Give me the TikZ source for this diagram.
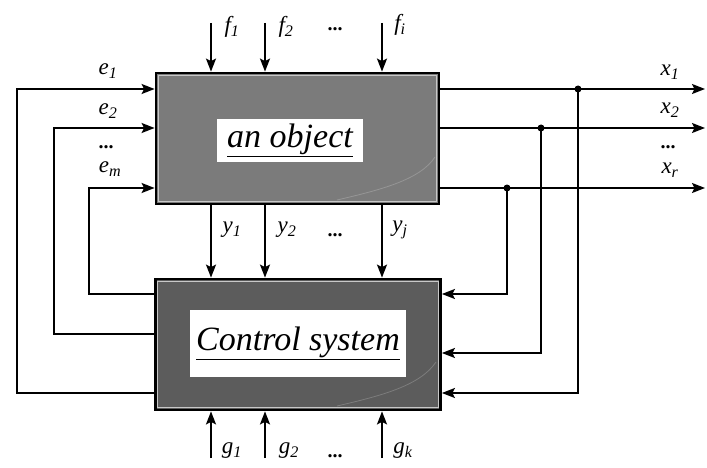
\documentclass[tikz,border=0pt]{standalone}
\usepackage{fontspec}
\setmainfont{Liberation Serif}
\usetikzlibrary{arrows.meta}
\definecolor{objgrey}{HTML}{7B7B7B}
\definecolor{ctlgrey}{HTML}{5C5C5C}
\definecolor{rimgrey}{HTML}{C8C8C8}
\newcommand\lab[2]{\textit{#1}\textsubscript{\textit{#2}}}
\begin{document}
\begin{tikzpicture}[x=1pt,y=-1pt,
  arr/.style={line width=1.8pt,-{Stealth[length=13pt,width=10pt,inset=2.5pt]}},
  blockbox/.style={draw=black,line width=2.8pt,minimum width=283pt,minimum height=131pt,inner sep=0pt},
  rim/.style={draw=rimgrey,line width=0.9pt},
  gloss/.style={draw=white,line width=0.8pt,opacity=0.2},
  textbox/.style={fill=white,inner sep=0pt,font=\fontsize{34}{40}\selectfont\itshape},
  lbl/.style={font=\fontsize{23}{26}\selectfont\itshape,inner sep=0pt},
  dotslbl/.style={font=\fontsize{20}{22}\selectfont\bfseries,inner sep=0pt},
  junction/.style={circle,fill=black,minimum size=7pt,inner sep=0pt}
]
\useasboundingbox (0,0) rectangle (707,468);
\fill[white] (0,0) rectangle (707,468);

% blocks
\node[blockbox,fill=objgrey] (obj) at (297.5,138.5) {};
\node[blockbox,fill=ctlgrey,minimum width=285pt] (ctl) at (298,344.5) {};
\draw[rim] ([shift={(3.5pt,-3.5pt)}]obj.north west) rectangle ([shift={(-3.5pt,3.5pt)}]obj.south east);
\draw[rim] ([shift={(3.5pt,-3.5pt)}]ctl.north west) rectangle ([shift={(-3.5pt,3.5pt)}]ctl.south east);
\draw[gloss] (337,200) .. controls (380,190) and (420,180) .. (435,157);
\draw[gloss] (337,406) .. controls (380,396) and (420,386) .. (436,362);

\node[textbox,minimum width=146pt,minimum height=43pt] (objtxt) at (290,140.5) {\underline{an object}};
\node[textbox,minimum width=216pt,minimum height=67pt] (ctltxt) at (298,343.5) {\underline{Control system}};

% column coordinates
\coordinate (cA) at (211,23);
\coordinate (cB) at (265,23);
\coordinate (cC) at (382,23);
\coordinate (gA) at (211,458);
\coordinate (gB) at (265,458);
\coordinate (gC) at (382,458);

% disturbances f
\draw[arr] (cA) -- (cA |- obj.north);
\draw[arr] (cB) -- (cB |- obj.north);
\draw[arr] (cC) -- (cC |- obj.north);
% outputs y to control
\draw[arr] (cA |- obj.south) -- (cA |- ctl.north);
\draw[arr] (cB |- obj.south) -- (cB |- ctl.north);
\draw[arr] (cC |- obj.south) -- (cC |- ctl.north);
% g inputs
\draw[arr] (gA) -- (gA |- ctl.south);
\draw[arr] (gB) -- (gB |- ctl.south);
\draw[arr] (gC) -- (gC |- ctl.south);

% control actions e (feedback on left)
\coordinate (L1t) at (17,89);  \coordinate (L1b) at (17,393);
\coordinate (L2t) at (54,128); \coordinate (L2b) at (54,334);
\coordinate (L3t) at (89,188); \coordinate (L3b) at (89,294);
\draw[arr] (L1b -| ctl.west) -- (L1b) -- (L1t) -- (L1t -| obj.west);
\draw[arr] (L2b -| ctl.west) -- (L2b) -- (L2t) -- (L2t -| obj.west);
\draw[arr] (L3b -| ctl.west) -- (L3b) -- (L3t) -- (L3t -| obj.west);

% outputs x
\coordinate (R1t) at (578,89);  \coordinate (R1b) at (578,393);
\coordinate (R2t) at (541,128); \coordinate (R2b) at (541,353);
\coordinate (R3t) at (507,188); \coordinate (R3b) at (507,294);
\coordinate (X1) at (705,89);
\coordinate (X2) at (705,128);
\coordinate (X3) at (705,188);
\draw[arr] (R1t -| obj.east) -- (X1);
\draw[arr] (R2t -| obj.east) -- (X2);
\draw[arr] (R3t -| obj.east) -- (X3);
\draw[arr] (R1t) -- (R1b) -- (R1b -| ctl.east);
\draw[arr] (R2t) -- (R2b) -- (R2b -| ctl.east);
\draw[arr] (R3t) -- (R3b) -- (R3b -| ctl.east);
\node[junction] (j1) at (R1t) {};
\node[junction] (j2) at (R2t) {};
\node[junction] (j3) at (R3t) {};

% labels
\node[lbl] (lf1) at (232,27) {\lab{f}{1}};
\node[lbl] (lf2) at (286,27) {\lab{f}{2}};
\node[dotslbl] (lfd) at (335,29) {...};
\node[lbl] (lfi) at (400,25) {\lab{f}{i}};

\node[lbl] (le1) at (108,71) {\lab{e}{1}};
\node[lbl] (le2) at (108,111) {\lab{e}{2}};
\node[dotslbl] (led) at (106,147) {...};
\node[lbl] (lem) at (110,169) {\lab{e}{m}};

\node[lbl] (lx1) at (670,72) {\lab{x}{1}};
\node[lbl] (lx2) at (670,110) {\lab{x}{2}};
\node[dotslbl] (lxd) at (668,147) {...};
\node[lbl] (lxr) at (670,170) {\lab{x}{r}};

\node[lbl] (ly1) at (232,230) {\lab{y}{1}};
\node[lbl] (ly2) at (287,230) {\lab{y}{2}};
\node[dotslbl] (lyd) at (335,235) {...};
\node[lbl] (lyj) at (400,230) {\lab{y}{j}};

\node[lbl] (lg1) at (232,451) {\lab{g}{1}};
\node[lbl] (lg2) at (289,451) {\lab{g}{2}};
\node[dotslbl] (lgd) at (335,456) {...};
\node[lbl] (lgk) at (403,451) {\lab{g}{k}};
\end{tikzpicture}
\end{document}
